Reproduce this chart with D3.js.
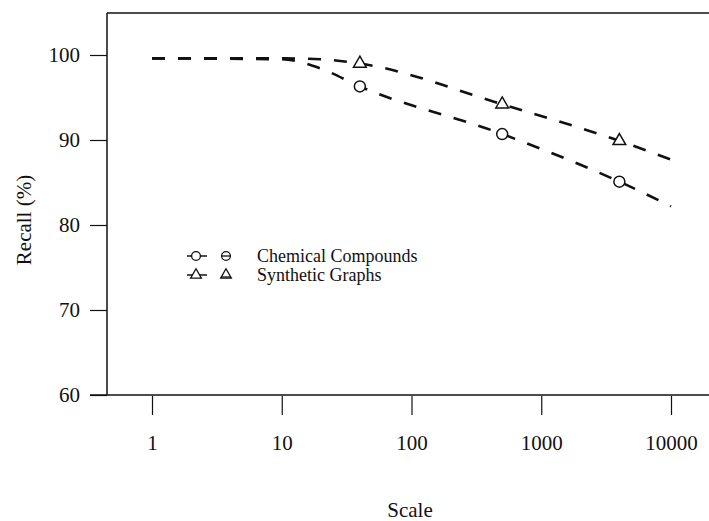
<!DOCTYPE html>
<html>
<head>
<meta charset="utf-8">
<script src="https://cdn.jsdelivr.net/npm/d3@7"></script>
<style>
  body { margin: 0; background: #fff; }
  text { font-family: "Liberation Serif", "Times New Roman", serif; fill: #111; }
</style>
</head>
<body>
<svg class="main" width="709" height="521"></svg>
<script>
// data
var scales = [1, 10, 20, 40, 500, 4000, 10000]
var chemical = [99.6, 99.5, 98.4, 96.3, 90.7, 85.1, 82.2]
var synthetic = [99.6, 99.6, 99.5, 99.0, 94.2, 89.9, 87.7]
var markerScales = [40, 500, 4000]
var xTicks = [1, 10, 100, 1000, 10000]
var yTicks = [60, 70, 80, 90, 100]
var seriesNames = ['Chemical Compounds', 'Synthetic Graphs']

var svg = d3.select('svg.main')
var ink = '#111'

// scales
var x = d3.scaleLog().domain([1, 10000]).range([152, 671])
var y = d3.scaleLinear().domain([60, 100]).range([395, 55])

// frame: left axis + top border, bottom axis reaching the edge
svg.append('line').attr('x1', 107).attr('x2', 107).attr('y1', 13).attr('y2', 395)
  .attr('stroke', ink).attr('stroke-width', 1.5)
svg.append('line').attr('x1', 107).attr('x2', 709).attr('y1', 13).attr('y2', 13)
  .attr('stroke', ink).attr('stroke-width', 1.5)
svg.append('line').attr('x1', 90).attr('x2', 709).attr('y1', 395).attr('y2', 395)
  .attr('stroke', ink).attr('stroke-width', 1.5)

// y axis ticks
var yAxis = svg.append('g')
  .attr('transform', 'translate(107,0)')
  .call(d3.axisLeft(y).tickValues(yTicks).tickSize(17).tickPadding(10))
yAxis.select('.domain').remove()
yAxis.selectAll('line').attr('stroke', ink).attr('stroke-width', 1.2)
yAxis.selectAll('text').attr('font-size', 21).attr('fill', ink)
  .style('font-family', '"Liberation Serif", serif')

// x axis ticks
var xAxis = svg.append('g')
  .attr('transform', 'translate(0,396)')
  .call(d3.axisBottom(x).tickValues(xTicks).tickFormat(d3.format('d')).tickSize(19).tickPadding(20))
xAxis.select('.domain').remove()
xAxis.selectAll('line').attr('stroke', ink).attr('stroke-width', 1.2)
xAxis.selectAll('text').attr('font-size', 21).attr('fill', ink)
  .style('font-family', '"Liberation Serif", serif')

// axis titles
svg.append('text').attr('x', 410).attr('y', 517).attr('text-anchor', 'middle')
  .attr('font-size', 21).text('Scale')
svg.append('text').attr('transform', 'translate(31,220) rotate(-90)').attr('text-anchor', 'middle')
  .attr('font-size', 21).text('Recall (%)')

// lines
var line = d3.line()
  .x(d => x(d[0]))
  .y(d => y(d[1]))
  .curve(d3.curveMonotoneX)

var series = [chemical, synthetic]
series.forEach(function(vals) {
  svg.append('path')
    .datum(scales.map((s, i) => [s, vals[i]]))
    .attr('d', line)
    .attr('fill', 'none')
    .attr('stroke', ink)
    .attr('stroke-width', 2.6)
    .attr('stroke-dasharray', '13,13')
})

var circleSym = d3.symbol().type(d3.symbolCircle).size(95)
var triSym = d3.symbol().type(d3.symbolTriangle).size(70)
var symbols = [circleSym, triSym]

series.forEach(function(vals, k) {
  var pts = scales.map((s, i) => [s, vals[i]]).filter(d => markerScales.indexOf(d[0]) >= 0)
  svg.selectAll('path.m' + k)
    .data(pts).join('path')
    .attr('class', 'm' + k)
    .attr('d', symbols[k])
    .attr('transform', d => `translate(${x(d[0])},${y(d[1])})`)
    .attr('fill', '#fff')
    .attr('stroke', ink)
    .attr('stroke-width', 1.5)
})

// legend
var legend = svg.append('g')
seriesNames.forEach(function(name, k) {
  var ly = 256 + k * 19
  legend.append('line').attr('x1', 187).attr('x2', 207).attr('y1', ly).attr('y2', ly)
    .attr('stroke', ink).attr('stroke-width', 1.5)
  legend.append('path').attr('d', symbols[k].size(k == 0 ? 60 : 50)())
    .attr('transform', `translate(196,${ly})`)
    .attr('fill', '#fff').attr('stroke', ink).attr('stroke-width', 1.3)
  legend.append('path').attr('d', symbols[k]())
    .attr('transform', `translate(226,${ly})`)
    .attr('fill', '#fff').attr('stroke', ink).attr('stroke-width', 1.3)
  legend.append('line').attr('x1', 221).attr('x2', 231)
    .attr('y1', k == 0 ? ly : ly + 2).attr('y2', k == 0 ? ly : ly + 2)
    .attr('stroke', ink).attr('stroke-width', 1.3)
  legend.append('text').attr('x', 257).attr('y', ly + 6)
    .attr('font-size', 18).text(name)
})
</script>
</body>
</html>
